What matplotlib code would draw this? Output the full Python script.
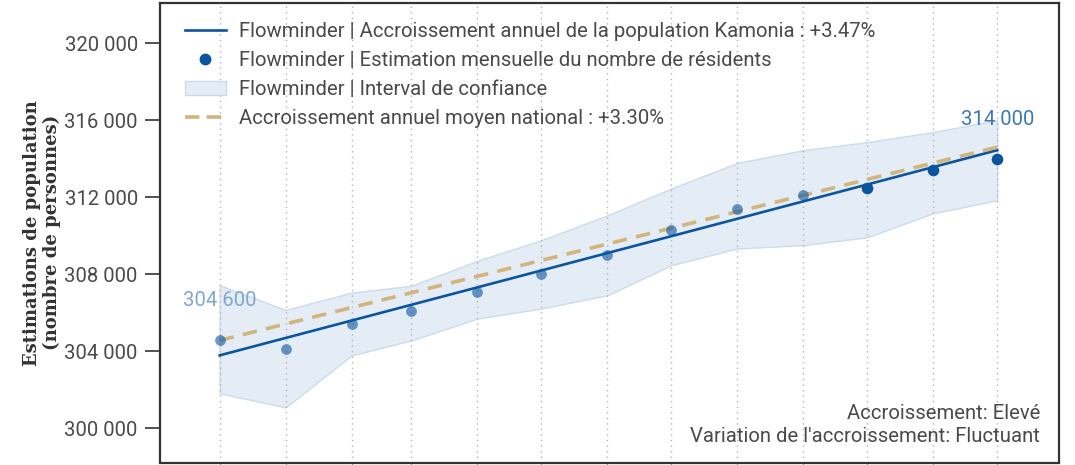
import matplotlib
matplotlib.use("Agg")
import matplotlib.pyplot as plt
import matplotlib.dates as mdates
from matplotlib.lines import Line2D
from matplotlib.patches import Patch
from matplotlib.ticker import FuncFormatter
import numpy as np
import datetime as dt

# monthly estimates (Kamonia)
dates = [dt.date(2020, 12, 1), dt.date(2021, 1, 1), dt.date(2021, 2, 1), dt.date(2021, 3, 1),
         dt.date(2021, 4, 1), dt.date(2021, 5, 1), dt.date(2021, 6, 1), dt.date(2021, 7, 1),
         dt.date(2021, 8, 1), dt.date(2021, 9, 1), dt.date(2021, 10, 1), dt.date(2021, 11, 1),
         dt.date(2021, 12, 1)]
estimates = [304600, 304100, 305400, 306100, 307100, 308000, 309000,
             310300, 311400, 312100, 312500, 313400, 314000]
ci_upper = [307430, 306150, 307050, 307400, 308700, 309770, 311060,
            312450, 313780, 314440, 314860, 315380, 316000]
ci_lower = [301820, 301090, 303790, 304570, 305700, 306220, 306910,
            308470, 309340, 309510, 309920, 311170, 311840]
recent = [False] * 10 + [True] * 3

# annual growth lines (start / end of the year)
trend_dates = [dt.date(2020, 12, 1), dt.date(2021, 12, 1)]
trend_kamonia = [303790, 314440]
trend_national = [304570, 314600]

yticks = [300000, 304000, 308000, 312000, 316000, 320000]

BLUE = "#0b559f"
TAN = "#d2b47c"
FILL = "#e4ecf5"
EDGE = "#cddbeb"
GREY = "#4a4a4a"
FS = 14.6

plt.rcParams["font.family"] = ["Roboto", "DejaVu Sans"]

fig = plt.figure(figsize=(10.75, 4.65), dpi=100)
ax = fig.add_axes([160 / 1075, 2.5 / 465, 899 / 1075, 459.5 / 465])

x = mdates.date2num(dates)
ax.fill_between(x, ci_lower, ci_upper, facecolor=FILL, edgecolor=EDGE, linewidth=1, zorder=1)
ax.plot(mdates.date2num(trend_dates), trend_kamonia, color=BLUE, lw=1.9, zorder=3)
ax.plot(mdates.date2num(trend_dates), trend_national, color=TAN, lw=2.6,
        linestyle=(0, (4, 2.6)), zorder=4)

est = np.array(estimates)
rec = np.array(recent)
ax.scatter(x[~rec], est[~rec], s=60, color=BLUE, alpha=0.6, linewidths=0, zorder=5)
ax.scatter(x[rec], est[rec], s=70, color=BLUE, linewidths=0, zorder=5)

fmt = lambda v: f"{int(round(v)):,}".replace(",", " ")
ax.annotate(fmt(estimates[0]), (x[0], estimates[0]), xytext=(0, 39), textcoords="offset pixels",
            ha="center", va="center", fontsize=FS, color="#80a8d0")
ax.annotate(fmt(estimates[-1]), (x[-1], estimates[-1]), xytext=(0, 39), textcoords="offset pixels",
            ha="center", va="center", fontsize=FS, color="#3f78b0")

ax.set_xlim(mdates.date2num(dt.date(2020, 11, 3)), mdates.date2num(dt.date(2021, 12, 30)))
ax.set_ylim(298230, 322080)
ax.set_yticks(yticks)
ax.yaxis.set_major_formatter(FuncFormatter(lambda v, p: fmt(v)))
ax.set_xticks(x)
ax.set_xticklabels([])
ax.tick_params(axis="y", length=11, width=1.2, color="#333333", labelsize=FS,
               labelcolor=GREY, pad=5)
ax.tick_params(axis="x", length=8, color="#999999")
ax.grid(axis="x", linestyle=(0, (1, 3)), color="#b5b5b5", linewidth=1)
for s in ax.spines.values():
    s.set_color("#333333")
    s.set_linewidth(1.6)

ax.set_ylabel("Estimations de population\n(nombre de personnes)", family="DejaVu Serif",
              fontweight="bold", fontsize=13, color="#333333", linespacing=1.15, labelpad=2)

handles = [Line2D([], [], color=BLUE, lw=1.9),
           Line2D([], [], color=BLUE, marker="o", ms=7.5, lw=0),
           Patch(facecolor=FILL, edgecolor=EDGE),
           Line2D([], [], color=TAN, lw=2.6, linestyle=(0, (4, 2)))]
labels = ["Flowminder | Accroissement annuel de la population Kamonia : +3.47%",
          "Flowminder | Estimation mensuelle du nombre de résidents",
          "Flowminder | Interval de confiance",
          "Accroissement annuel moyen national : +3.30%"]
leg = ax.legend(handles, labels, loc="upper left", bbox_to_anchor=(0.012, 0.99), frameon=False,
                fontsize=FS, handlelength=2.0, handletextpad=0.65, labelspacing=0.5,
                borderaxespad=0.3)
for t in leg.get_texts():
    t.set_color(GREY)

ax.text(0.979, 0.035, "Accroissement: Elevé\nVariation de l'accroissement: Fluctuant",
        transform=ax.transAxes, ha="right", va="bottom", fontsize=FS, color=GREY,
        linespacing=1.3)

fig.savefig("out.png", dpi=100)
